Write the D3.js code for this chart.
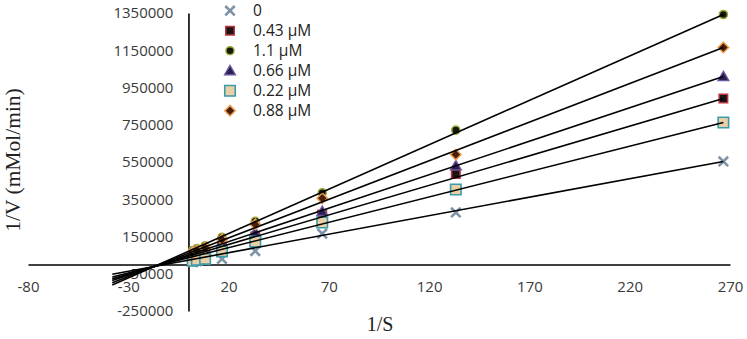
<!DOCTYPE html>
<html>
<head>
<meta charset="utf-8">
<script src="https://cdn.jsdelivr.net/npm/d3@7/dist/d3.min.js"></script>
<style>
  html, body { margin: 0; padding: 0; background: #fff; }
  svg { display: block; }
</style>
</head>
<body>
<svg id="chart" width="747" height="339"></svg>
<script>
// ---- data ----
const xValues = [2.1, 4.2, 8.3, 16.7, 33.3, 66.7, 133.3, 266.7];
const seriesNames = ["0", "0.43 µM", "1.1 µM", "0.66 µM", "0.22 µM", "0.88 µM"];
const values0   = [12000, 18000, 25000, 30000, 72000, 165000, 279000, 553000];
const values043 = [40000, 50000, 60000, 95000, 150000, 268000, 485000, 891000];
const values11  = [75000, 85000, 100000, 145000, 231000, 385000, 721000, 1342000];
const values066 = [50000, 60000, 75000, 110000, 172000, 285000, 530000, 1009000];
const values022 = [20000, 25000, 30000, 70000, 123000, 225000, 402000, 762000];
const values088 = [65000, 75000, 90000, 134000, 215000, 355000, 590000, 1165000];
// linear trendlines (slope, intercept) per series, same order as seriesNames
const slopes     = [1987, 3178, 4768, 3594, 2724, 4144];
const intercepts = [23100, 43300, 70400, 50400, 35600, 59700];
const trendFromX = -38;
const trendToX = 266.7;
const xTicks = [-80, -30, 20, 70, 120, 170, 220, 270];
const yTicks = [-250000, -50000, 150000, 350000, 550000, 750000, 950000, 1150000, 1350000];
const xDomain = [-80, 270];
const yDomain = [-250000, 1350000];
const xTitle = "1/S";
const yTitle = "1/V (mMol/min)";

const seriesValues = [values0, values043, values11, values066, values022, values088];

// ---- styles ----
const styles = [
  { kind: "x",        fill: "none",    stroke: "#7f93a6", sw: 2.6, size: 60 },
  { kind: "square",   fill: "#1c1414", stroke: "#b8343f", sw: 1.5, size: 72 },
  { kind: "circle",   fill: "#141a0c", stroke: "#9ea83e", sw: 1.5, size: 52 },
  { kind: "triangle", fill: "#2c1f55", stroke: "#6c58a0", sw: 1.3, size: 52 },
  { kind: "square",   fill: "#e9cfa6", stroke: "#3a9bab", sw: 1.6, size: 110 },
  { kind: "diamond",  fill: "#4a200c", stroke: "#f0a254", sw: 1.5, size: 56 }
];

const svg = d3.select("#chart");
const x = d3.scaleLinear().domain(xDomain).range([28, 730]);
const y = d3.scaleLinear().domain(yDomain).range([311, 13]);

function symbolPath(kind, size) {
  if (kind === "x") return d3.symbol(d3.symbolX, size)();
  if (kind === "square") return d3.symbol(d3.symbolSquare, size)();
  if (kind === "circle") return d3.symbol(d3.symbolCircle, size)();
  if (kind === "triangle") return d3.symbol(d3.symbolTriangle, size)();
  if (kind === "diamond") return d3.symbol(d3.symbolSquare, size)();
}
function drawMarker(g, st, cx, cy) {
  const p = g.append("path")
    .attr("d", symbolPath(st.kind, st.size))
    .attr("fill", st.fill)
    .attr("stroke", st.stroke)
    .attr("stroke-width", st.sw);
  let t = `translate(${cx},${cy})`;
  if (st.kind === "diamond") t += " rotate(45)";
  if (st.kind === "triangle") t += " translate(0,1)";
  p.attr("transform", t);
}

// ---- axes ----
const fontTick = "'Open Sans', 'Noto Sans', sans-serif";
const fmt = d => String(d);
const xAxis = d3.axisBottom(x).tickValues(xTicks).tickSize(0).tickPadding(17).tickFormat(fmt);
const yAxis = d3.axisLeft(y).tickValues(yTicks).tickSize(0).tickPadding(15).tickFormat(fmt);

const gx = svg.append("g").attr("transform", `translate(0,${y(0)})`).call(xAxis);
const gy = svg.append("g").attr("transform", `translate(${x(0)},0)`).call(yAxis);
[gx, gy].forEach(g => {
  g.select(".domain").attr("stroke", "#000").attr("stroke-width", 1.6);
  g.selectAll("text").attr("font-family", fontTick).attr("font-size", 15).attr("fill", "#3a3a3a");
});

// ---- markers ----
const gm = svg.append("g");
seriesValues.forEach((vals, i) => {
  vals.forEach((v, j) => drawMarker(gm, styles[i], x(xValues[j]), y(v)));
});

// ---- trendlines ----
const gl = svg.append("g");
slopes.forEach((m, i) => {
  const pts = [trendFromX, trendToX].map(xx => [x(xx), y(m * xx + intercepts[i])]);
  gl.append("path")
    .attr("d", d3.line()(pts))
    .attr("stroke", "#000")
    .attr("stroke-width", 1.6)
    .attr("fill", "none");
});

// ---- legend ----
const lg = svg.append("g");
seriesNames.forEach((name, i) => {
  const cy = 10.7 + i * 20;
  drawMarker(lg, styles[i], 230, cy);
  lg.append("text")
    .attr("x", 253).attr("y", cy).attr("dy", "0.36em")
    .attr("font-family", fontTick).attr("font-size", 15.5).attr("fill", "#222")
    .text(name);
});

// ---- titles ----
svg.append("text")
  .attr("x", 380).attr("y", 331)
  .attr("text-anchor", "middle")
  .attr("font-family", "'Liberation Serif', 'DejaVu Serif', serif")
  .attr("font-size", 20).attr("fill", "#222")
  .text(xTitle);
svg.append("text")
  .attr("transform", "translate(20,160) rotate(-90)")
  .attr("text-anchor", "middle")
  .attr("font-family", "'Liberation Serif', 'DejaVu Serif', serif")
  .attr("font-size", 21.5).attr("fill", "#222")
  .text(yTitle);
</script>
</body>
</html>
